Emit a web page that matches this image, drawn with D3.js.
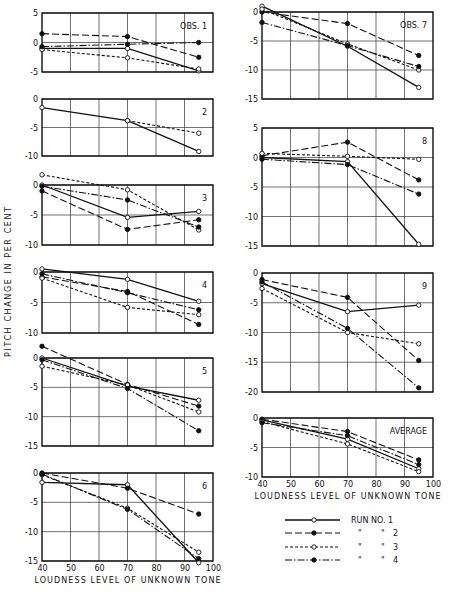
<!DOCTYPE html>
<html>
<head>
<meta charset="utf-8">
<script src="https://cdn.jsdelivr.net/npm/d3@7"></script>
<style>
body { margin: 0; background: #fff; }
text { font-family: "DejaVu Sans", sans-serif; fill: #111; }
</style>
</head>
<body>
<script>
// loudness levels where the runs were measured
var loudness = [40, 70, 95];
var xTicks = [40, 50, 60, 70, 80, 90, 100];

// panels: left column obs 1-6, right column obs 7-9 and the average
var panelLabels = ["OBS. 1", "2", "3", "4", "5", "6", "OBS. 7", "8", "9", "AVERAGE"];
var yTicks = [
    [5, 0, -5],
    [0, -5, -10],
    [0, -5, -10],
    [0, -5, -10],
    [0, -5, -10, -15],
    [0, -5, -10, -15],
    [0, -5, -10, -15],
    [5, 0, -5, -10, -15],
    [0, -5, -10, -15, -20],
    [0, -5, -10]
];

// pitch change in per cent, one row per panel, values at 40, 70, 95
var run1 = [
    [-1.0, -1.0, -4.8], [-1.5, -3.8, -9.2], [0.0, -5.4, -4.4], [0.5, -1.2, -4.8], [0.0, -4.8, -7.2],
    [-1.6, -2.0, -15.3], [1.0, -5.9, -13.0], [0.0, -0.7, -14.7], [-1.8, -6.5, -5.4], [-0.3, -3.6, -8.6]
];
var run2 = [
    [1.5, 1.0, -2.5], [null, null, null], [-1.0, -7.4, -5.8], [-0.8, -3.2, -8.6], [2.0, -4.5, -8.2],
    [0.0, -2.6, -7.0], [0.0, -2.0, -7.5], [0.3, 2.6, -3.8], [-1.1, -4.1, -14.7], [-0.2, -2.3, -7.1]
];
var run3 = [
    [-1.2, -2.6, -4.5], [null, -3.8, -6.0], [1.7, -0.8, -7.5], [-1.0, -5.8, -7.0], [-1.4, -4.6, -9.2],
    [-0.3, -6.0, -13.5], [0.5, -5.5, -10.0], [0.7, 0.2, -0.3], [-2.6, -10.0, -11.9], [-0.6, -4.4, -9.1]
];
var run4 = [
    [-0.7, -0.3, 0.0], [null, null, null], [-0.2, -2.5, -7.0], [-0.3, -3.4, -6.2], [-0.3, -5.2, -12.4],
    [-0.2, -6.2, -14.6], [-1.8, -5.8, -9.4], [-0.3, -1.2, -6.2], [-1.5, -9.3, -19.3], [-0.8, -3.0, -7.9]
];
var runs = [run1, run2, run3, run4];
var runNumbers = ["1", "2", "3", "4"];

// layout (pixels)
var w = 465, h = 596;
var columns = [{x0: 42, x1: 213}, {x0: 262, x1: 433}];
var panelLayout = [
    {col: 0, top: 13, bottom: 72},
    {col: 0, top: 99, bottom: 156},
    {col: 0, top: 185, bottom: 245},
    {col: 0, top: 272, bottom: 333},
    {col: 0, top: 358, bottom: 446},
    {col: 0, top: 473, bottom: 561, xAxis: true},
    {col: 1, top: 12, bottom: 99},
    {col: 1, top: 128, bottom: 246},
    {col: 1, top: 273, bottom: 392},
    {col: 1, top: 418, bottom: 477, xAxis: true}
];
var dashes = ["none", "7,3", "3,2", "7,2,1.5,2"];
var openMarker = [true, false, true, false];

var svg = d3.select("body").append("svg")
    .attr("width", w)
    .attr("height", h);

function drawPanel(i) {
    var lay = panelLayout[i];
    var col = columns[lay.col];
    var ticks = yTicks[i];

    var x = d3.scaleLinear().domain([40, 100]).range([col.x0, col.x1]);
    var y = d3.scaleLinear()
        .domain([d3.min(ticks), d3.max(ticks)])
        .range([lay.bottom, lay.top]);

    var g = svg.append("g");

    // grid lines
    g.selectAll(".vgrid").data(xTicks.slice(1, -1)).enter().append("line")
        .attr("x1", function(d) { return x(d); })
        .attr("x2", function(d) { return x(d); })
        .attr("y1", lay.top).attr("y2", lay.bottom)
        .attr("stroke", "#333").attr("stroke-width", 0.7);
    g.selectAll(".hgrid").data(ticks).enter().append("line")
        .attr("x1", col.x0).attr("x2", col.x1)
        .attr("y1", function(d) { return y(d); })
        .attr("y2", function(d) { return y(d); })
        .attr("stroke", "#333").attr("stroke-width", 0.7);

    // frame
    g.append("rect")
        .attr("x", col.x0).attr("y", lay.top)
        .attr("width", col.x1 - col.x0).attr("height", lay.bottom - lay.top)
        .attr("fill", "none").attr("stroke", "#111").attr("stroke-width", 1.4);

    // y axis labels
    var yAxis = d3.axisLeft(y)
        .tickValues(ticks)
        .tickSize(0)
        .tickPadding(4)
        .tickFormat(function(d) { return String(d); });
    var ya = g.append("g")
        .attr("transform", "translate(" + col.x0 + ",0)")
        .call(yAxis);
    ya.select(".domain").remove();
    ya.selectAll("text").attr("font-size", "8px").attr("font-family", "DejaVu Sans").attr("fill", "#111");

    // x axis labels under the bottom panels
    if (lay.xAxis) {
        var xAxis = d3.axisBottom(x)
            .tickValues(xTicks)
            .tickSize(0)
            .tickPadding(4);
        var xa = g.append("g")
            .attr("transform", "translate(0," + lay.bottom + ")")
            .call(xAxis);
        xa.select(".domain").remove();
        xa.selectAll("text").attr("font-size", "8px").attr("font-family", "DejaVu Sans").attr("fill", "#111");

        g.append("text")
            .attr("x", (col.x0 + col.x1) / 2)
            .attr("y", lay.bottom + 22)
            .attr("text-anchor", "middle")
            .attr("font-size", "8px")
            .attr("textLength", 186)
            .attr("lengthAdjust", "spacing")
            .text("LOUDNESS LEVEL OF UNKNOWN TONE");
    }

    // panel label in the upper right corner
    g.append("text")
        .attr("x", col.x1 - 6)
        .attr("y", lay.top + 16)
        .attr("text-anchor", "end")
        .attr("font-size", "8px")
        .text(panelLabels[i]);

    // run lines
    var line = d3.line()
        .defined(function(d) { return d.v !== null; })
        .x(function(d) { return x(d.x); })
        .y(function(d) { return y(d.v); });

    runs.forEach(function(run, r) {
        var pts = loudness.map(function(l, k) { return {x: l, v: run[i][k]}; });
        g.append("path")
            .datum(pts)
            .attr("d", line)
            .attr("fill", "none")
            .attr("stroke", "#111")
            .attr("stroke-width", r === 0 ? 1.3 : 1.1)
            .attr("stroke-dasharray", dashes[r]);
        g.selectAll(".pt" + r)
            .data(pts.filter(function(d) { return d.v !== null; }))
            .enter().append("circle")
            .attr("cx", function(d) { return x(d.x); })
            .attr("cy", function(d) { return y(d.v); })
            .attr("r", 2.2)
            .attr("fill", openMarker[r] ? "#fff" : "#111")
            .attr("stroke", "#111")
            .attr("stroke-width", 0.9);
    });
}

for (var i = 0; i < panelLabels.length; i++) {
    drawPanel(i);
}

// y axis title
svg.append("text")
    .attr("transform", "translate(11,282) rotate(-90)")
    .attr("text-anchor", "middle")
    .attr("font-size", "8px")
    .attr("textLength", 150)
    .attr("lengthAdjust", "spacing")
    .text("PITCH CHANGE IN PER CENT");

// legend
var legendY = [520, 533, 547, 560];
var leg = svg.append("g");
runNumbers.forEach(function(n, r) {
    var ly = legendY[r];
    leg.append("line")
        .attr("x1", 285).attr("x2", 340)
        .attr("y1", ly).attr("y2", ly)
        .attr("stroke", "#111")
        .attr("stroke-width", r === 0 ? 1.3 : 1.1)
        .attr("stroke-dasharray", dashes[r]);
    leg.append("circle")
        .attr("cx", 314).attr("cy", ly).attr("r", 2.2)
        .attr("fill", openMarker[r] ? "#fff" : "#111")
        .attr("stroke", "#111").attr("stroke-width", 0.9);
    if (r === 0) {
        leg.append("text").attr("x", 351).attr("y", ly + 3)
            .attr("font-size", "8px").text("RUN  NO.  " + n);
    } else {
        leg.append("text").attr("x", 358).attr("y", ly + 3)
            .attr("font-size", "8px").text("\"");
        leg.append("text").attr("x", 381).attr("y", ly + 3)
            .attr("font-size", "8px").text("\"");
        leg.append("text").attr("x", 393).attr("y", ly + 3)
            .attr("font-size", "8px").text(n);
    }
});
</script>
</body>
</html>
